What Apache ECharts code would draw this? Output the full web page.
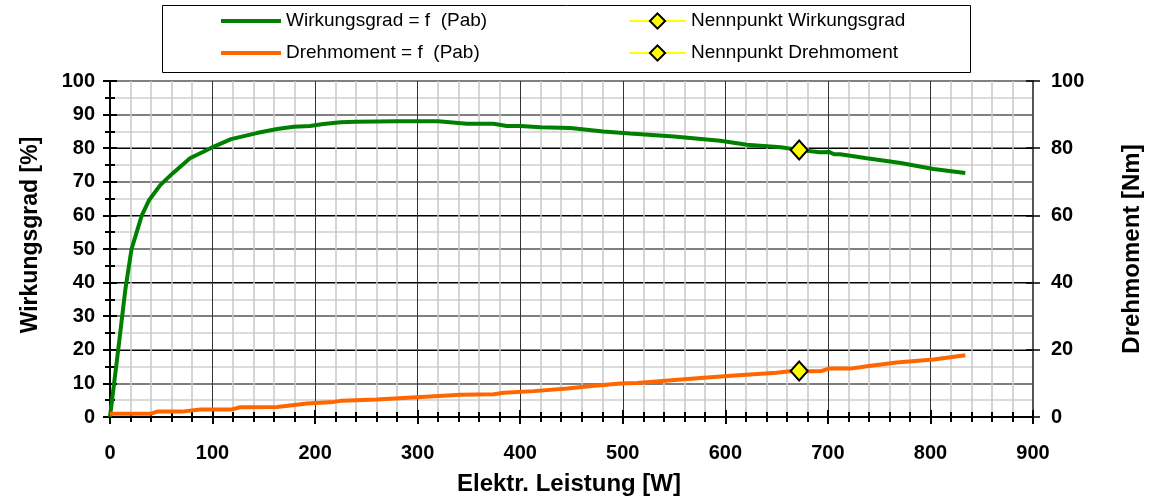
<!DOCTYPE html>
<html>
<head>
<meta charset="utf-8">
<script src="https://cdn.jsdelivr.net/npm/echarts@6/dist/echarts.min.js"></script>
<style>html,body{margin:0;padding:0;background:#fff;}#c{width:1158px;height:497px;}</style>
</head>
<body>
<div id="c"></div>
<script>
// Efficiency curve: electrical power [W] vs efficiency [%]
const effPower = [0, 8, 15, 21, 25, 31, 38, 49, 61, 78, 98, 118, 143, 163, 179, 195, 208, 225, 240, 280, 320, 348, 374, 387, 400, 420, 449, 481, 507, 550, 595, 605, 621, 654, 672, 692, 701, 706, 712, 738, 771, 803, 834];
const effValues = [0, 20, 38, 50, 54, 60, 64.5, 69, 72.5, 77, 80, 82.7, 84.5, 85.7, 86.4, 86.6, 87.2, 87.7, 87.9, 88, 88, 87.3, 87.3, 86.6, 86.6, 86.2, 86, 85, 84.4, 83.5, 82.2, 81.8, 81, 80.3, 79.5, 78.8, 78.9, 78.2, 78.2, 77, 75.6, 73.8, 72.6];
// Torque curve: electrical power [W] vs torque [Nm]
const torPower = [0, 40, 46, 70, 88, 118, 127, 163, 186, 192, 218, 225, 260, 299, 342, 374, 384, 413, 446, 472, 498, 514, 560, 602, 650, 665, 682, 694, 701, 722, 740, 767, 803, 834];
const torValues = [1, 1, 1.6, 1.6, 2.2, 2.2, 2.9, 3, 3.8, 4, 4.5, 4.8, 5.2, 5.9, 6.6, 6.8, 7.2, 7.7, 8.5, 9.3, 10, 10.1, 11.2, 12.2, 13.2, 13.7, 13.6, 13.7, 14.4, 14.4, 15.2, 16.2, 17.1, 18.4];
// Rated points
const ratedPower = 672;
const ratedEff = 79.5;
const ratedTorque = 13.7;
// Names
const seriesNames = ['Wirkungsgrad = f  (Pab)', 'Drehmoment = f  (Pab)', 'Nennpunkt Wirkungsgrad', 'Nennpunkt Drehmoment'];
const xName = 'Elektr. Leistung [W]';
const yLeftName = 'Wirkungsgrad [%]';
const yRightName = 'Drehmoment [Nm]';

const FONT = "'Liberation Sans', Arial, sans-serif";
const zip = (a, b) => a.map((v, i) => [v, b[i]]);

const chart = echarts.init(document.getElementById('c'), null, {renderer: 'canvas'});
const labelStyle = {color: '#000', fontFamily: FONT, fontWeight: 'bold', fontSize: 20};

chart.setOption({
  backgroundColor: '#fff',
  animation: false,
  grid: {left: 110, right: 125, top: 81, bottom: 80, containLabel: false},
  legend: [
    {
      data: [{name: seriesNames[0], icon: 'rect'}, {name: seriesNames[1], icon: 'rect'}],
      orient: 'vertical', left: 221, top: 11, padding: 0, itemWidth: 60, itemHeight: 4, itemGap: 12,
      textStyle: {color: '#000', fontFamily: FONT, fontSize: 19, lineHeight: 20},
      selectedMode: false
    },
    {
      data: [seriesNames[2], seriesNames[3]],
      orient: 'vertical', left: 628, top: 11, padding: 0, itemWidth: 57, itemHeight: 19, itemGap: 12,
      textStyle: {color: '#000', fontFamily: FONT, fontSize: 19, lineHeight: 20},
      selectedMode: false
    }
  ],
  graphic: [
    {type: 'rect', shape: {x: 162.5, y: 5.5, width: 808, height: 67}, style: {fill: null, stroke: '#000', lineWidth: 1}, z: 10},
    {type: 'text', x: 31, y: 235, rotation: Math.PI / 2, style: {text: yLeftName, font: "bold 23px 'Liberation Sans', Arial", fill: '#000', textAlign: 'center', textVerticalAlign: 'middle'}},
    {type: 'text', x: 1132, y: 249, rotation: Math.PI / 2, style: {text: yRightName, font: "bold 24px 'Liberation Sans', Arial", fill: '#000', textAlign: 'center', textVerticalAlign: 'middle'}},
    {type: 'text', x: 569, y: 484, style: {text: xName, font: "bold 24px 'Liberation Sans', Arial", fill: '#000', textAlign: 'center', textVerticalAlign: 'middle'}}
  ],
  xAxis: [
    {
      type: 'value', min: 0, max: 900, interval: 100, position: 'bottom',
      axisLine: {show: true, onZero: false, lineStyle: {color: '#000', width: 2}},
      axisTick: {show: true, length: 7, lineStyle: {color: '#000', width: 2}},
      minorTick: {show: true, splitNumber: 5, length: 5, lineStyle: {color: '#000', width: 2}},
      axisLabel: Object.assign({margin: 26}, labelStyle),
      splitLine: {show: true, lineStyle: {color: '#333', width: 1}},
      minorSplitLine: {show: true, lineStyle: {color: '#c8c8c8', width: 1.5}}
    },
    {
      type: 'value', min: 0, max: 900, interval: 100, position: 'bottom',
      axisLine: {show: false, onZero: false},
      axisTick: {show: true, inside: true, length: 7, lineStyle: {color: '#000', width: 2}},
      minorTick: {show: true, splitNumber: 5, length: 5, lineStyle: {color: '#000', width: 2}},
      axisLabel: {show: false},
      splitLine: {show: false}
    }
  ],
  yAxis: [
    {
      type: 'value', min: 0, max: 100, interval: 10, position: 'left',
      axisLine: {show: true, onZero: false, lineStyle: {color: '#000', width: 2}},
      axisTick: {show: true, length: 7, lineStyle: {color: '#000', width: 2}},
      minorTick: {show: true, splitNumber: 2, length: 5, lineStyle: {color: '#000', width: 2}},
      axisLabel: Object.assign({margin: 15}, labelStyle),
      splitLine: {show: true, lineStyle: {color: '#808080', width: 2}},
      minorSplitLine: {show: true, lineStyle: {color: '#d0d0d0', width: 1.5}}
    },
    {
      type: 'value', min: 0, max: 100, interval: 10, position: 'left',
      axisLine: {show: false, onZero: false},
      axisTick: {show: true, inside: true, length: 7, lineStyle: {color: '#000', width: 2}},
      minorTick: {show: true, splitNumber: 2, length: 5, lineStyle: {color: '#000', width: 2}},
      axisLabel: {show: false},
      splitLine: {show: false}
    },
    {
      type: 'value', min: 0, max: 100, interval: 20, position: 'right',
      axisLine: {show: true, onZero: false, lineStyle: {color: '#555', width: 2}},
      axisTick: {show: true, length: 7, lineStyle: {color: '#000', width: 1.5}},
      axisLabel: Object.assign({margin: 18}, labelStyle),
      splitLine: {show: true, showMaxLine: false, lineStyle: {color: '#000', width: 1}}
    },
    {
      type: 'value', min: 0, max: 100, interval: 20, position: 'right',
      axisLine: {show: false, onZero: false},
      axisTick: {show: true, inside: true, length: 7, lineStyle: {color: '#000', width: 1.5}},
      axisLabel: {show: false},
      splitLine: {show: false}
    }
  ],
  series: [
    {
      name: seriesNames[0], type: 'line', xAxisIndex: 0, yAxisIndex: 0,
      data: zip(effPower, effValues), symbol: 'none', showSymbol: false,
      lineStyle: {color: '#008000', width: 4}, itemStyle: {color: '#008000'}, z: 3
    },
    {
      name: seriesNames[1], type: 'line', xAxisIndex: 0, yAxisIndex: 2,
      data: zip(torPower, torValues), symbol: 'none', showSymbol: false,
      lineStyle: {color: '#ff6600', width: 4}, itemStyle: {color: '#ff6600'}, z: 3
    },
    {
      name: seriesNames[2], type: 'line', xAxisIndex: 0, yAxisIndex: 0,
      data: [[ratedPower, ratedEff]], symbol: 'diamond', symbolSize: [17, 19], showSymbol: true,
      lineStyle: {color: '#ffff00', width: 2}, itemStyle: {color: '#ffff00', borderColor: '#000', borderWidth: 2}, z: 5
    },
    {
      name: seriesNames[3], type: 'line', xAxisIndex: 0, yAxisIndex: 2,
      data: [[ratedPower, ratedTorque]], symbol: 'diamond', symbolSize: [17, 19], showSymbol: true,
      lineStyle: {color: '#ffff00', width: 2}, itemStyle: {color: '#ffff00', borderColor: '#000', borderWidth: 2}, z: 5
    }
  ]
});
</script>
</body>
</html>
